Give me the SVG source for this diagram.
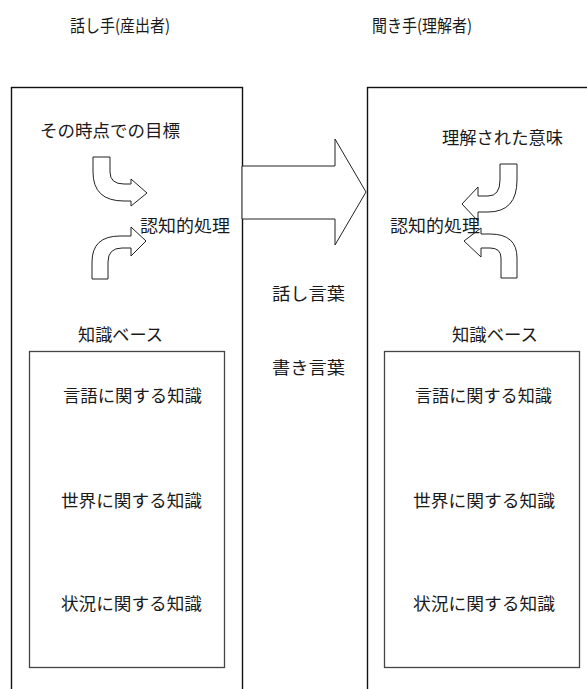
<svg xmlns="http://www.w3.org/2000/svg" width="587" height="689" viewBox="0 0 587 689">
<style>
text{font-family:"Noto Sans CJK JP","Noto Sans",sans-serif;fill:#1a1a1a;font-size:17px}
.outer{fill:none;stroke:#111;stroke-width:1.4}
.inner{fill:none;stroke:#444;stroke-width:1.3}
.arr{fill:#fff;stroke:#222;stroke-width:1}
</style>
<rect width="587" height="689" fill="#fff"/>
<g id="speaker">
<rect class="outer" x="11.5" y="87.5" width="231" height="640"/>
<text x="70" y="32" font-size="18" textLength="100" lengthAdjust="spacingAndGlyphs">話し手(産出者)</text>
</g>
<g id="listener">
<rect class="outer" x="367.5" y="87.5" width="240" height="640"/>
<text x="372" y="32" font-size="18" textLength="100" lengthAdjust="spacingAndGlyphs">聞き手(理解者)</text>
</g>
<g id="connectors">
<polygon class="arr" points="242,166 335,166 335,139 366,192 335,245 335,219 242,219"/>
<path class="arr" d="M93,157 L110,157 L110,172 Q110,184 124,184 L131,184 L131,179 L147,193 L131,206 L131,201 L124,201 Q93,201 93,172 Z"/>
<path class="arr" d="M92,279 L108,279 L108,262 Q108,248 122,248 L131,248 L131,256 L146,241 L131,227 L131,236 L120,236 Q92,236 92,262 Z"/>
<path class="arr" d="M500,164 L517,164 L517,180 Q517,212 488,212 L478,212 L478,221 L462,204 L478,187 L478,196 L488,196 Q500,196 500,180 Z"/>
<path class="arr" d="M501,278 L517,278 L517,258 Q517,234 490,234 L481,234 L481,228 L464,241 L481,257 L481,248 L490,248 Q501,248 501,258 Z"/>
</g>
<g id="goal"><text x="40" y="137" font-size="18" textLength="140" lengthAdjust="spacingAndGlyphs">その時点での目標</text></g>
<g id="cog-left"><text x="140" y="232" font-size="19" textLength="90" lengthAdjust="spacingAndGlyphs">認知的処理</text></g>
<g id="meaning"><text x="442" y="144" font-size="19" textLength="121" lengthAdjust="spacingAndGlyphs">理解された意味</text></g>
<g id="cog-right"><text x="390" y="232" font-size="19" textLength="90" lengthAdjust="spacingAndGlyphs">認知的処理</text></g>
<g id="spoken"><text x="272" y="300" font-size="19" textLength="73" lengthAdjust="spacingAndGlyphs">話し言葉</text></g>
<g id="written"><text x="272" y="374" font-size="19" textLength="73" lengthAdjust="spacingAndGlyphs">書き言葉</text></g>
<g id="kb-left">
<text x="78" y="341" font-size="17" textLength="85" lengthAdjust="spacingAndGlyphs">知識ベース</text>
<rect class="inner" x="29.5" y="351.5" width="195" height="316"/>
<text x="63" y="402" font-size="18" textLength="139" lengthAdjust="spacingAndGlyphs">言語に関する知識</text>
<text x="61" y="507" font-size="18" textLength="141" lengthAdjust="spacingAndGlyphs">世界に関する知識</text>
<text x="61" y="610" font-size="18" textLength="141" lengthAdjust="spacingAndGlyphs">状況に関する知識</text>
</g>
<g id="kb-right">
<text x="452" y="341" font-size="17" textLength="86" lengthAdjust="spacingAndGlyphs">知識ベース</text>
<rect class="inner" x="384.5" y="351.5" width="195" height="316"/>
<text x="415" y="402" font-size="18" textLength="137" lengthAdjust="spacingAndGlyphs">言語に関する知識</text>
<text x="413" y="507" font-size="18" textLength="142" lengthAdjust="spacingAndGlyphs">世界に関する知識</text>
<text x="413" y="610" font-size="18" textLength="142" lengthAdjust="spacingAndGlyphs">状況に関する知識</text>
</g>
</svg>
